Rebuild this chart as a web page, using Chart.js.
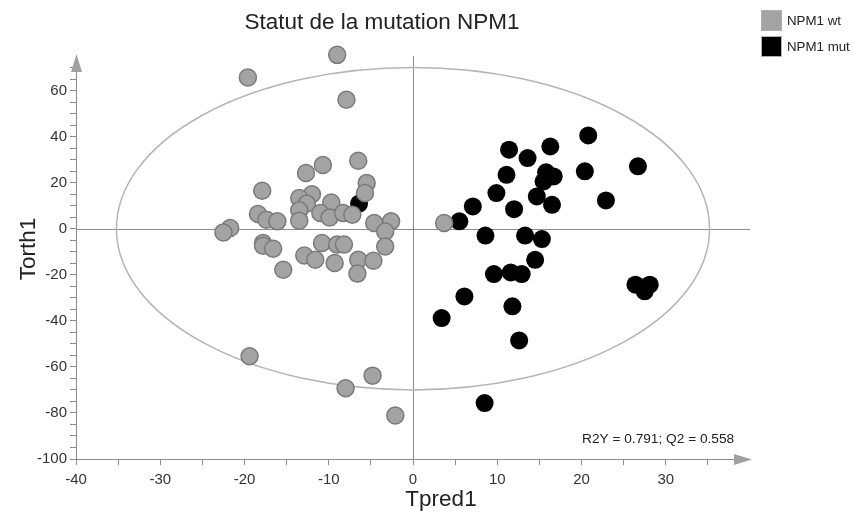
<!DOCTYPE html>
<html>
<head>
<meta charset="utf-8">
<script src="https://cdn.jsdelivr.net/npm/chart.js@4.4.1/dist/chart.umd.min.js"></script>
<style>
  html, body { margin: 0; padding: 0; background: #fff; }
  #wrap { width: 854px; height: 513px; }
</style>
</head>
<body>
<div id="wrap"><canvas id="myChart" width="854" height="513"></canvas></div>
<script>
// NPM1 wt (gray)
const wtX = [-19.6, -9.0, -7.9, -6.5, -10.7, -12.7, -5.5, -5.7, -17.9, -12.0, -13.5, -12.6, -13.5, -9.7, -11.0, -9.9, -8.3, -7.2, -18.4, -17.4, -16.1, -13.5, -21.7, -22.5, -4.6, -2.6, -3.3, -3.3, -17.8, -17.8, -16.6, -10.8, -9.0, -8.2, -12.9, -11.6, -9.3, -6.5, -4.7, -6.6, -15.4, -19.4, -4.8, -8.0, -2.1, 3.7];
const wtY = [65.7, 75.5, 56.0, 29.5, 27.7, 24.2, 19.8, 15.5, 16.5, 15.0, 13.3, 10.9, 8.0, 11.4, 6.8, 4.9, 6.8, 6.1, 6.4, 3.9, 3.2, 3.5, 0.3, -1.6, 2.5, 3.2, -1.2, -7.7, -6.2, -7.4, -8.7, -6.2, -6.9, -6.9, -11.6, -13.5, -14.9, -13.5, -13.9, -19.5, -17.8, -55.4, -63.8, -69.3, -81.1, 2.5];

// NPM1 mut (black)
const mutX = [-6.4, 20.8, 26.7, 11.4, 16.3, 13.6, 20.4, 15.8, 16.7, 11.1, 15.5, 22.9, 9.9, 14.7, 16.5, 7.1, 12.0, 5.5, 8.6, 13.3, 15.3, 14.5, 9.6, 11.6, 12.9, 6.1, 3.4, 11.8, 12.6, 8.5, 26.4, 28.1, 27.5];
const mutY = [10.9, 40.5, 27.1, 34.3, 35.7, 30.7, 24.9, 24.5, 22.7, 23.4, 20.5, 12.3, 15.5, 14.0, 10.4, 9.7, 8.5, 3.2, -3.0, -3.0, -4.5, -13.5, -19.7, -19.0, -19.7, -29.4, -38.8, -33.7, -48.5, -75.7, -24.3, -24.3, -27.2];

const seriesLabels = ['NPM1 wt', 'NPM1 mut'];
const xLabelEvery = 10;
const yLabelEvery = 20;

function toPoints(xs, ys) {
  return xs.map(function (x, i) { return { x: x, y: ys[i] }; });
}

const font = '"Liberation Sans", Arial, sans-serif';
const axisGray = '#8c8c8c';

// extra drawing: zero lines, ellipse, arrows, texts, legend
const decorations = {
  id: 'decorations',
  beforeDatasetsDraw(chart) {
    const c = chart.ctx;
    const a = chart.chartArea;
    const xs = chart.scales.x;
    const ys = chart.scales.y;
    c.save();
    // zero lines
    c.strokeStyle = axisGray;
    c.lineWidth = 1;
    c.beginPath();
    const x0 = Math.round(xs.getPixelForValue(0)) + 0.5;
    const y0 = Math.round(ys.getPixelForValue(0)) + 0.5;
    c.moveTo(x0, a.top);
    c.lineTo(x0, a.bottom);
    c.moveTo(a.left, y0);
    c.lineTo(a.right, y0);
    c.stroke();
    // T2 ellipse
    c.strokeStyle = '#b4b4b4';
    c.lineWidth = 1.5;
    c.beginPath();
    const cx = xs.getPixelForValue(0), cy = ys.getPixelForValue(0);
    const rx = xs.getPixelForValue(35.2) - cx;
    const ry = cy - ys.getPixelForValue(70);
    c.ellipse(cx, cy, rx, ry, 0, 0, Math.PI * 2);
    c.stroke();
    c.restore();
  },
  afterDraw(chart) {
    const c = chart.ctx;
    const a = chart.chartArea;
    c.save();
    // arrows
    c.fillStyle = '#a0a0a0';
    c.beginPath();
    c.moveTo(a.right + 2, a.bottom + 0.5);
    c.lineTo(a.right - 16, a.bottom - 5);
    c.lineTo(a.right - 16, a.bottom + 6);
    c.closePath();
    c.fill();
    c.beginPath();
    c.moveTo(a.left + 0.5, a.top - 2);
    c.lineTo(a.left - 5, a.top + 16);
    c.lineTo(a.left + 6, a.top + 16);
    c.closePath();
    c.fill();

    // title
    c.fillStyle = '#222';
    c.textAlign = 'center';
    c.textBaseline = 'alphabetic';
    c.font = '22.5px ' + font;
    c.fillText('Statut de la mutation NPM1', 382, 29);

    // axis titles
    c.textBaseline = 'middle';
    c.font = '22.5px ' + font;
    c.fillText('Tpred1', 441, 500);
    c.save();
    c.translate(29, 249);
    c.rotate(-Math.PI / 2);
    c.fillText('Torth1', 0, 0);
    c.restore();

    // fit statistics
    c.font = '13.7px ' + font;
    c.textAlign = 'left';
    c.textBaseline = 'alphabetic';
    c.fillText('R2Y = 0.791; Q2 = 0.558', 582, 443);

    // legend
    const ds = chart.data.datasets;
    c.textBaseline = 'middle';
    ds.forEach(function (d, i) {
      const top = 10 + i * 26;
      c.fillStyle = d.backgroundColor;
      c.fillRect(761, top, 21, 21);
      c.strokeStyle = '#b0b0b0';
      c.lineWidth = 1;
      c.strokeRect(761.5, top + 0.5, 20, 20);
      c.fillStyle = '#222';
      c.font = '13.3px ' + font;
      c.fillText(d.label, 787, top + 11);
    });
    c.restore();
  }
};

const ctx = document.getElementById('myChart').getContext('2d');

// eslint-disable-next-line
const chart = new Chart(ctx, {
  type: 'scatter',
  data: {
    datasets: [
      {
        label: seriesLabels[0],
        data: toPoints(wtX, wtY),
        backgroundColor: '#a3a3a3',
        borderColor: '#7a7a7a',
        borderWidth: 1.5,
        pointRadius: 8.5,
        pointHoverRadius: 8.5,
        clip: false,
      },
      {
        label: seriesLabels[1],
        data: toPoints(mutX, mutY),
        backgroundColor: '#000000',
        borderColor: '#000000',
        borderWidth: 0,
        pointRadius: 9,
        pointHoverRadius: 9,
        clip: false,
      },
    ],
  },
  options: {
    responsive: false,
    animation: false,
    events: [],
    layout: { padding: { left: 0, right: 104, top: 56, bottom: 0 } },
    plugins: {
      legend: { display: false },
      tooltip: { enabled: false },
    },
    scales: {
      x: {
        type: 'linear',
        min: -40,
        max: 40,
        afterFit(scale) { scale.height = 54; },
        ticks: {
          stepSize: 5,
          padding: 6,
          color: '#333',
          font: { family: font, size: 15 },
          maxRotation: 0,
          autoSkip: false,
          callback(v) { return (v % xLabelEvery === 0 && v < 40) ? v : ''; },
        },
        grid: {
          drawOnChartArea: false,
          tickLength: 6,
          tickColor(c) { return c.tick && c.tick.value === 40 ? 'rgba(0,0,0,0)' : axisGray; },
        },
        border: { display: true, color: axisGray, width: 1 },
      },
      y: {
        type: 'linear',
        min: -100,
        max: 75,
        afterFit(scale) { scale.width = 76; },
        ticks: {
          stepSize: 5,
          padding: 3,
          color: '#333',
          font: { family: font, size: 15 },
          autoSkip: false,
          callback(v) { return (v % yLabelEvery === 0) ? v : ''; },
        },
        grid: {
          drawOnChartArea: false,
          tickLength: 6,
          tickColor(c) { return c.tick && c.tick.value === 75 ? 'rgba(0,0,0,0)' : axisGray; },
        },
        border: { display: true, color: axisGray, width: 1 },
      },
    },
  },
  plugins: [decorations],
});
</script>
</body>
</html>
